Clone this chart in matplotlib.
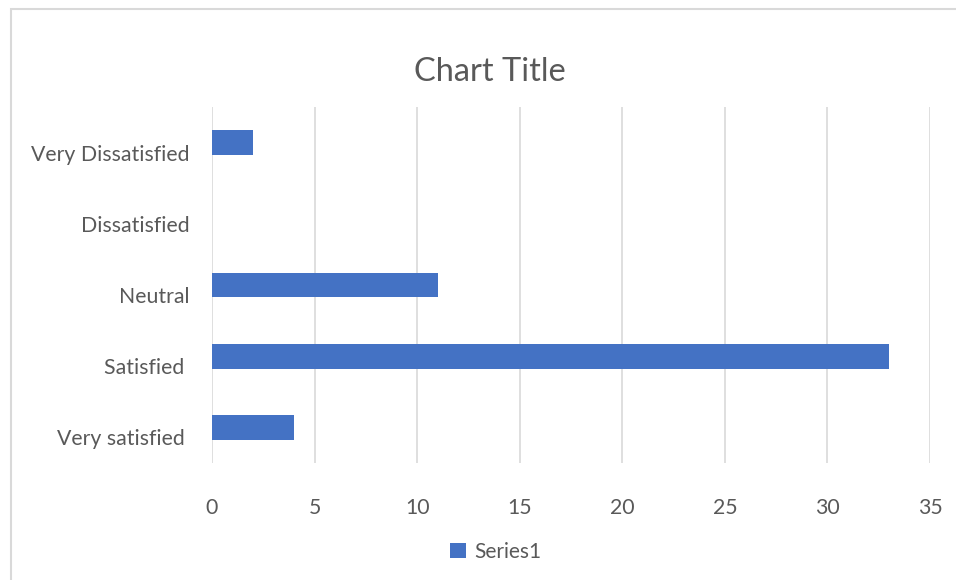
import matplotlib
matplotlib.use("Agg")
import matplotlib.pyplot as plt
import matplotlib.transforms as mtransforms
from matplotlib.patches import Rectangle

# data (bottom to top, as Excel draws it)
categories = ["Very satisfied ", "Satisfied ", "Neutral", "Dissatisfied", "Very Dissatisfied"]
values = [4, 33, 11, 0, 2]
x_ticks = [0, 5, 10, 15, 20, 25, 30, 35]
series_name = "Series1"

bar_color = "#4472C4"
text_color = "#595959"
grid_color = "#D9D9D9"

plt.rcParams["font.family"] = ["Lato", "DejaVu Sans"]

fig = plt.figure(figsize=(9.56, 5.8), dpi=100)
ax = fig.add_axes([212 / 956, 1 - 463 / 580, (930 - 212) / 956, (463 - 107) / 580])

bars = ax.barh(range(len(categories)), values, height=0.35, color=bar_color, label=series_name, zorder=3)

ax.set_xlim(0, 35)
ax.set_ylim(-0.5, len(categories) - 0.5)
ax.set_xticks(x_ticks)
ax.set_yticks(range(len(categories)))
ax.set_yticklabels(categories)
ax.grid(axis="x", color=grid_color, linewidth=1.2, zorder=0)
for s in ax.spines.values():
    s.set_visible(False)
ax.tick_params(axis="both", length=0, colors=text_color, labelsize=15.3)
ax.tick_params(axis="x", pad=25)
ax.tick_params(axis="y", pad=16)

# Excel puts the category labels a little below the bar centre
offset = mtransforms.ScaledTranslation(0, -10 / 100, fig.dpi_scale_trans)
for lbl in ax.get_yticklabels():
    lbl.set_transform(lbl.get_transform() + offset)

fig.text(490 / 956, 1 - 72 / 580, "Chart Title", ha="center", va="center",
         fontsize=23.5, color=text_color)

fig.legend(handles=[bars], loc="center", bbox_to_anchor=(496 / 956, 1 - 552 / 580),
           frameon=False, fontsize=15, labelcolor=text_color,
           handlelength=0.75, handleheight=0.75, handletextpad=0.4)

# outer chart frame (cut off on the right and bottom)
fig.patches.append(Rectangle((11 / 956, -0.1), 1.2, 1 - 9 / 580 + 0.1, transform=fig.transFigure,
                             fill=False, edgecolor=grid_color, linewidth=1.5))

fig.savefig("out.png", dpi=100)
